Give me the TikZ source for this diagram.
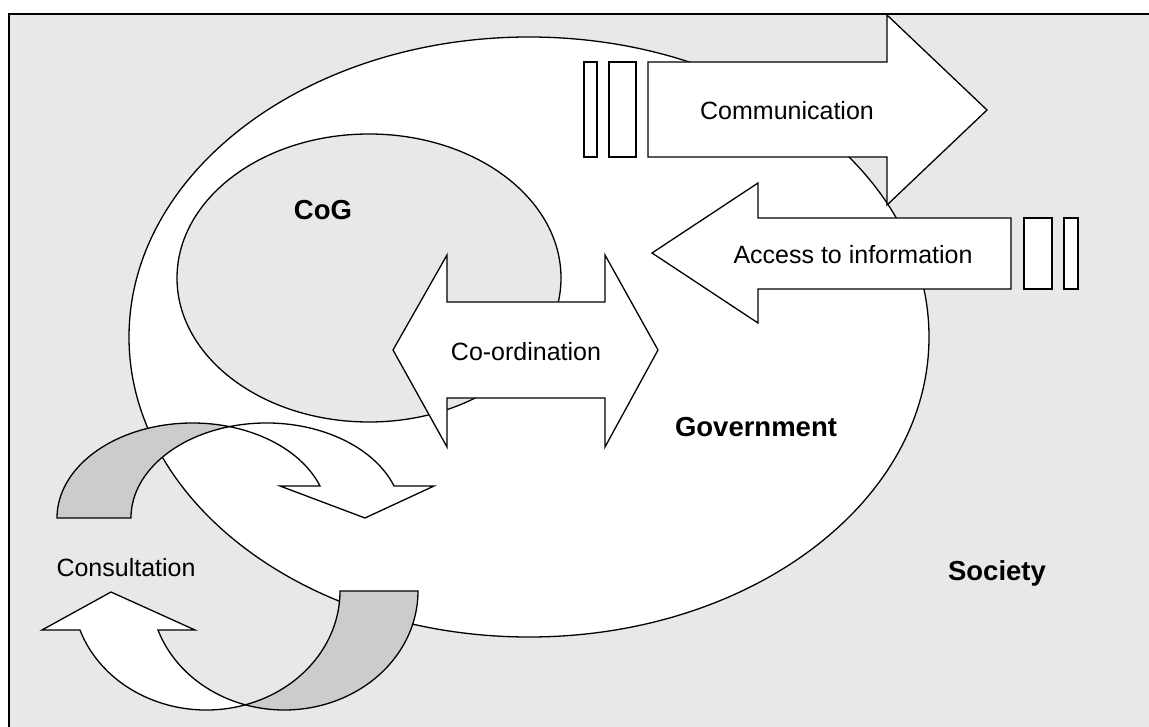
\documentclass[tikz,border=0pt]{standalone}
\usepackage{fontspec}
\setmainfont{Liberation Sans}
\definecolor{societygray}{HTML}{E8E8E8}
\definecolor{bandgray}{HTML}{CCCCCC}
\def\stripe(#1)(#2){\draw[piece] (#1) rectangle (#2);}

\begin{document}
\begin{tikzpicture}[x=1pt,y=-1pt,
		piece/.style={draw=black, line width=1.3pt, fill=white, line join=miter},
		backpiece/.style={piece, fill=bandgray},
		plaintext/.style={font=\fontsize{25}{30}\selectfont, anchor=base, inner sep=0pt},
		boldtext/.style={font=\fontsize{27.5}{33}\selectfont\bfseries, anchor=base, inner sep=0pt}]
			%%%%% START %%%%%
			
			\useasboundingbox (0,0) rectangle (1149,727);
			\fill[societygray] (9,14) rectangle (1149,727);
			
			% government and centre of government
			\draw[piece] (529,337) ellipse [x radius=400, y radius=300];
			\draw[piece, fill=societygray] (369,278) ellipse [x radius=192, y radius=144];
			
			% co-ordination
			\draw[piece] (393,350) -- (447,255) -- (447,302) -- (605,302) -- (605,255) -- (658,350)
				-- (605,447) -- (605,398) -- (447,398) -- (447,447) -- cycle;
			
			% communication
			\draw[piece] (648,62) -- (887,62) -- (887,15) -- (987,110) -- (887,205) -- (887,157) -- (648,157) -- cycle;
			\stripe(584,62)(597,157)
			\stripe(609,62)(636,157)
			
			% access to information
			\draw[piece] (652,253) -- (758,183) -- (758,218) -- (1011,218) -- (1011,289) -- (758,289) -- (758,323) -- cycle;
			\stripe(1024,218)(1052,289)
			\stripe(1064,218)(1078,289)
			
			% consultation, upper arrow
			\draw[backpiece] (57,518) arc[start angle=180, end angle=285.84, x radius=135.5, y radius=95]
				arc[start angle=254.16, end angle=180, x radius=135.5, y radius=95] -- cycle;
			\draw[piece] (229.5,426.6) arc[start angle=254.16, end angle=340.3, x radius=135.5, y radius=95]
				-- (434,486) -- (365,518) -- (280,486) -- (320,486)
				arc[start angle=340.3, end angle=285.84, x radius=135.5, y radius=95] -- cycle;
			
			% consultation, lower arrow
			\draw[backpiece] (418,591) arc[start angle=0, end angle=106.96, x radius=133.7, y radius=119]
				arc[start angle=73.04, end angle=0, x radius=133.7, y radius=119] -- cycle;
			\draw[piece] (80,630) arc[start angle=160.87, end angle=73.04, x radius=133.7, y radius=119]
				arc[start angle=106.96, end angle=160.87, x radius=133.7, y radius=119]
				-- (195,630) -- (111,592) -- (42,630) -- cycle;
			
			\node[boldtext] (cog) at (323,220) {CoG};
			\node[boldtext] (government) at (756,436) {Government};
			\node[boldtext] (society) at (997,580) {Society};
			\node[plaintext] (coordination) at (526,361) {Co-ordination};
			\node[plaintext] (communication) at (787,120) {Communication};
			\node[plaintext] (access) at (853,264) {Access to information};
			\node[plaintext] (consultation) at (126,576) {Consultation};
			
			% frame
			\draw[line width=2.5pt] (9,727) -- (9,14) -- (1149,14);
			
			%%%%% END %%%%%
		\end{tikzpicture}
\end{document}
